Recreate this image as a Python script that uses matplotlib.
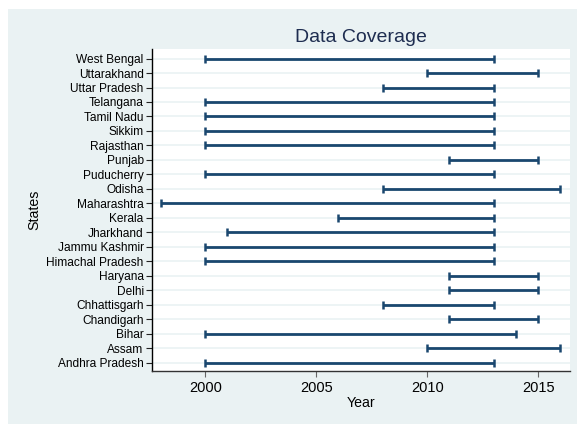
import matplotlib
matplotlib.use("Agg")
import matplotlib.pyplot as plt
from matplotlib.patches import Rectangle

states = [
    "Andhra Pradesh", "Assam", "Bihar", "Chandigarh", "Chhattisgarh", "Delhi",
    "Haryana", "Himachal Pradesh", "Jammu Kashmir", "Jharkhand", "Kerala",
    "Maharashtra", "Odisha", "Puducherry", "Punjab", "Rajasthan", "Sikkim",
    "Tamil Nadu", "Telangana", "Uttar Pradesh", "Uttarakhand", "West Bengal",
]
start_year = [2000, 2010, 2000, 2011, 2008, 2011, 2011, 2000, 2000, 2001, 2006,
              1998, 2008, 2000, 2011, 2000, 2000, 2000, 2000, 2008, 2010, 2000]
end_year = [2013, 2016, 2014, 2015, 2013, 2015, 2015, 2013, 2013, 2013, 2013,
            2013, 2016, 2013, 2015, 2013, 2013, 2013, 2013, 2013, 2015, 2013]
year_ticks = [2000, 2005, 2010, 2015]

navy = "#1a476f"
bg = "#eaf2f3"
plt.rcParams["font.family"] = ["Liberation Sans", "DejaVu Sans"]

fig = plt.figure(figsize=(5.77, 4.25), dpi=100)
# stata-style light outer background
fig.patches.append(Rectangle((8 / 577, 1 / 425), 569 / 577, 415 / 425,
                             transform=fig.transFigure, facecolor=bg,
                             edgecolor="none", zorder=-1))
ax = fig.add_axes([152 / 577, 54 / 425, 418 / 577, 322 / 425])
ax.set_zorder(1)
ax.set_facecolor("white")

ypos = list(range(len(states)))
for y in ypos:
    ax.axhline(y, color=bg, linewidth=1.2, zorder=1)

ax.hlines(ypos, start_year, end_year, color=navy, linewidth=2, zorder=3)
ax.plot(start_year, ypos, "|", color=navy, markersize=5.3, markeredgewidth=1.8, zorder=4)
ax.plot(end_year, ypos, "|", color=navy, markersize=5.3, markeredgewidth=1.8, zorder=4)

ax.set_xlim(1997.6, 2016.43)
ax.set_ylim(-0.58, len(states) - 1 + 0.66)
ax.set_yticks(ypos)
ax.set_yticklabels(states, fontsize=8.6)
ax.set_xticks(year_ticks)
ax.set_xticklabels([str(t) for t in year_ticks], fontsize=10.5)
ax.tick_params(axis="y", length=4, width=0.8, color="#222222", pad=2)
ax.tick_params(axis="x", length=4, width=0.8, color="#666666", pad=3)

for side in ["top", "right"]:
    ax.spines[side].set_visible(False)
ax.spines["left"].set_color("black")
ax.spines["bottom"].set_color("#333333")
ax.spines["left"].set_linewidth(1)
ax.spines["bottom"].set_linewidth(1)

ax.set_xlabel("Year", fontsize=10.2, labelpad=1)
ax.set_ylabel("States", fontsize=10.2, labelpad=4)
ax.set_title("Data Coverage", fontsize=14, color="#1e2d50", pad=5)

fig.savefig("out.png", dpi=100)
